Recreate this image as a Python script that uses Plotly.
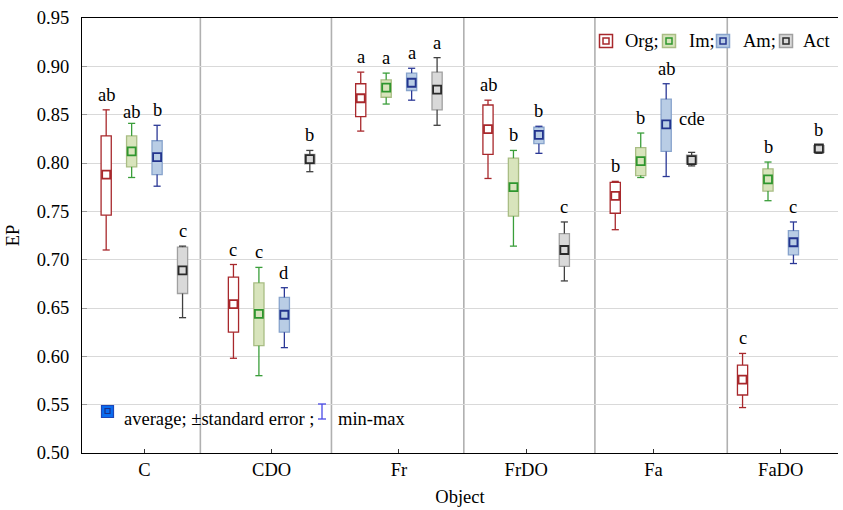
import plotly.graph_objects as go

# ---------------- data ----------------
categories = ["C", "CDO", "Fr", "FrDO", "Fa", "FaDO"]
series = ["Org", "Im", "Am", "Act"]

org_mean = [0.788, 0.654, 0.867, 0.835, 0.766, 0.576]
org_hi   = [0.828, 0.682, 0.882, 0.860, 0.780, 0.591]
org_lo   = [0.746, 0.625, 0.848, 0.809, 0.748, 0.560]
org_max  = [0.855, 0.695, 0.894, 0.865, 0.781, 0.603]
org_min  = [0.710, 0.598, 0.833, 0.784, 0.731, 0.547]
org_lbl  = ["ab", "c", "a", "ab", "b", "c"]

im_mean = [0.812, 0.644, 0.878, 0.775, 0.802, 0.783]
im_hi   = [0.828, 0.676, 0.886, 0.805, 0.816, 0.794]
im_lo   = [0.796, 0.611, 0.868, 0.745, 0.787, 0.771]
im_max  = [0.841, 0.692, 0.893, 0.813, 0.831, 0.801]
im_min  = [0.785, 0.580, 0.861, 0.714, 0.785, 0.761]
im_lbl  = ["ab", "c", "a", "b", "b", "b"]

am_mean = [0.806, 0.643, 0.883, 0.829, 0.840, 0.718]
am_hi   = [0.823, 0.661, 0.893, 0.837, 0.866, 0.730]
am_lo   = [0.788, 0.625, 0.875, 0.820, 0.812, 0.705]
am_max  = [0.839, 0.671, 0.898, 0.838, 0.882, 0.739]
am_min  = [0.776, 0.609, 0.865, 0.810, 0.786, 0.696]
am_lbl  = ["b", "d", "a", "b", "ab", "c"]

act_mean = [0.689, 0.804, 0.876, 0.710, 0.803, 0.815]
act_hi   = [0.713, 0.809, 0.894, 0.727, 0.808, 0.818]
act_lo   = [0.665, 0.799, 0.855, 0.693, 0.799, 0.811]
act_max  = [0.714, 0.813, 0.909, 0.739, 0.811, 0.819]
act_min  = [0.640, 0.791, 0.839, 0.678, 0.797, 0.810]
act_lbl  = ["c", "b", "a", "c", "cde", "b"]

yticks = [0.50, 0.55, 0.60, 0.65, 0.70, 0.75, 0.80, 0.85, 0.90, 0.95]

# ---------------- styles ----------------
FONT = "Liberation Serif"
FS = 18.5
styles = {
    "Org": dict(whisk="#a8282c", fill="#ffffff", border="#a8282c", mean="#a8282c"),
    "Im":  dict(whisk="#3a9e3a", fill="#d8e4bc", border="#a9bd84", mean="#2e962e"),
    "Am":  dict(whisk="#2b3896", fill="#b9cde5", border="#87a3cc", mean="#23348e"),
    "Act": dict(whisk="#404040", fill="#d9d9d9", border="#a0a0a0", mean="#2a2a2a"),
}
offsets = {"Org": -0.3, "Im": -0.1, "Am": 0.1, "Act": 0.3}
BOXW = 0.08
CAP = 0.028
label_shift = {("Im", 0): -4, ("Act", 4): 18}

data = {
    "Org": (org_mean, org_hi, org_lo, org_max, org_min, org_lbl),
    "Im": (im_mean, im_hi, im_lo, im_max, im_min, im_lbl),
    "Am": (am_mean, am_hi, am_lo, am_max, am_min, am_lbl),
    "Act": (act_mean, act_hi, act_lo, act_max, act_min, act_lbl),
}

fig = go.Figure()
annotations = []

for s in series:
    mean, hi, lo, mx, mn, lbl = data[s]
    st = styles[s]
    xs = [i + offsets[s] for i in range(len(categories))]
    # box (mean +/- standard error)
    fig.add_trace(go.Bar(
        x=xs, y=[h - l for h, l in zip(hi, lo)], base=lo, width=BOXW,
        marker=dict(color=st["fill"], line=dict(color=st["border"], width=1.3)),
        showlegend=False, hoverinfo="skip"))
    # whiskers (min-max)
    wx, wy = [], []
    for x, h, l, a, b in zip(xs, hi, lo, mx, mn):
        wx += [x, x, None, x, x, None, x - CAP, x + CAP, None, x - CAP, x + CAP, None]
        wy += [a, h, None, l, b, None, a, a, None, b, b, None]
    fig.add_trace(go.Scatter(x=wx, y=wy, mode="lines",
                             line=dict(color=st["whisk"], width=1.3),
                             showlegend=False, hoverinfo="skip"))
    # mean marker
    fig.add_trace(go.Scatter(
        x=xs, y=mean, mode="markers",
        marker=dict(symbol="square-open", size=8, color=st["mean"],
                    line=dict(width=1.8, color=st["mean"])),
        showlegend=False, hoverinfo="skip"))
    for i, (x, a, t) in enumerate(zip(xs, mx, lbl)):
        annotations.append(dict(
            x=x, y=a, xref="x", yref="y", text=t, showarrow=False,
            yanchor="bottom", xanchor="center",
            yshift=3 + label_shift.get((s, i), 0),
            font=dict(family=FONT, size=FS, color="#000000")))

# ---------------- layout helpers (pixel -> paper) ----------------
L, R, T, B = 82, 5, 18, 57
W, H = 843, 510
PW, PH = W - L - R, H - T - B


def px(x):
    return (x - L) / PW


def py(y):
    return (H - B - y) / PH


shapes = []
# vertical dividers between objects
for xd in [0.44, 1.47, 2.51, 3.54, 4.58]:
    shapes.append(dict(type="line", xref="x", yref="paper", x0=xd, x1=xd, y0=0, y1=1,
                       line=dict(color="#b0b0b0", width=1.6), layer="below"))

# top legend
leg_items = [("Org;", 606, 623), ("Im;", 669, 687), ("Am;", 723, 741), ("Act", 786, 801)]
for (txt, cx, tx), s in zip(leg_items, series):
    st = styles[s]
    cy = 41
    shapes.append(dict(type="rect", xref="paper", yref="paper",
                       x0=px(cx - 6.5), x1=px(cx + 6.5), y0=py(cy + 6.5), y1=py(cy - 6.5),
                       fillcolor=st["fill"], line=dict(color=st["whisk"] if s == "Org" else st["border"], width=1.5)))
    shapes.append(dict(type="rect", xref="paper", yref="paper",
                       x0=px(cx - 3), x1=px(cx + 3), y0=py(cy + 3), y1=py(cy - 3),
                       fillcolor="rgba(0,0,0,0)", line=dict(color=st["mean"], width=1.5)))
    annotations.append(dict(x=px(tx), y=py(cy), xref="paper", yref="paper", text=txt,
                            showarrow=False, xanchor="left", yanchor="middle",
                            font=dict(family=FONT, size=FS, color="#000000")))

# bottom legend
shapes.append(dict(type="rect", xref="paper", yref="paper",
                   x0=px(101.5), x1=px(113.5), y0=py(417.5), y1=py(405.5),
                   fillcolor="#0a6cf0", line=dict(color="#1d46b8", width=1.2)))
shapes.append(dict(type="rect", xref="paper", yref="paper",
                   x0=px(105), x1=px(110), y0=py(413.5), y1=py(408.5),
                   fillcolor="rgba(0,0,0,0)", line=dict(color="#1a2f8a", width=1.2)))
annotations.append(dict(x=px(122), y=py(419), xref="paper", yref="paper",
                        text="average; ±standard error ;", showarrow=False,
                        xanchor="left", yanchor="middle",
                        font=dict(family=FONT, size=FS, color="#000000")))
wc = "#4a4ae6"
shapes.append(dict(type="line", xref="paper", yref="paper", x0=px(322), x1=px(322),
                   y0=py(404), y1=py(419), line=dict(color=wc, width=1.3)))
shapes.append(dict(type="line", xref="paper", yref="paper", x0=px(318), x1=px(326),
                   y0=py(404), y1=py(404), line=dict(color=wc, width=1.3)))
shapes.append(dict(type="line", xref="paper", yref="paper", x0=px(318), x1=px(326),
                   y0=py(419), y1=py(419), line=dict(color=wc, width=1.3)))
annotations.append(dict(x=px(336), y=py(419), xref="paper", yref="paper",
                        text="min-max", showarrow=False, xanchor="left", yanchor="middle",
                        font=dict(family=FONT, size=FS, color="#000000")))

fig.update_layout(
    width=W, height=H,
    margin=dict(l=L, r=R, t=T, b=B, pad=0),
    paper_bgcolor="#ffffff", plot_bgcolor="#ffffff",
    barmode="overlay", showlegend=False,
    font=dict(family=FONT, size=FS, color="#000000"),
    shapes=shapes, annotations=annotations,
    xaxis=dict(range=[-0.49, 5.45], tickvals=list(range(len(categories))),
               ticktext=categories, showgrid=False, zeroline=False,
               showline=True, linecolor="#000000", linewidth=1.2, mirror=True,
               ticks="inside", ticklen=4, tickcolor="#333333",
               title=dict(text="Object", font=dict(family=FONT, size=FS), standoff=10),
               tickfont=dict(family=FONT, size=FS)),
    yaxis=dict(range=[0.50, 0.95], tickvals=yticks, tickformat=".2f",
               showgrid=True, gridcolor="#d9d9d9", gridwidth=1, zeroline=False,
               showline=True, linecolor="#000000", linewidth=1.2,
               ticks="inside", ticklen=5, tickcolor="#999999",
               ticklabelstandoff=8,
               title=dict(text="EP", font=dict(family=FONT, size=FS), standoff=12),
               tickfont=dict(family=FONT, size=FS)),
)

fig.write_html("out.html")
